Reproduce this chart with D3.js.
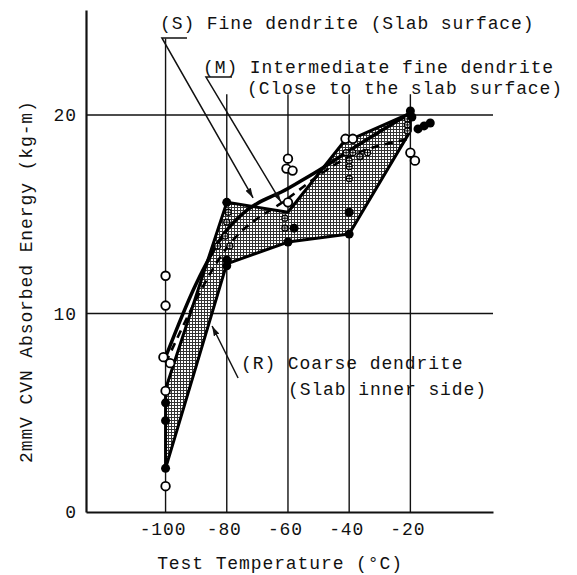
<!DOCTYPE html>
<html>
<head>
<meta charset="utf-8">
<script src="https://cdn.jsdelivr.net/npm/d3@7"></script>
<style>
  body { margin: 0; background: #fff; }
  svg text { font-family: "Liberation Mono", "Courier New", monospace; font-size: 18px; fill: #111; letter-spacing: 0.9px; }
</style>
</head>
<body>
<svg id="chart"></svg>
<script>
// Chart size
const width = 577;
const height = 575;

// Test temperatures (deg C) and energy ticks (kg-m)
const temps = [-100, -80, -60, -40, -20];
const energyTicks = [0, 10, 20];
const gridEnergies = [10, 20];

// Shaded scatter band: upper and lower bounds
const bandUpper = [[-100, 6.2], [-80, 15.6], [-60, 15.1], [-42, 18.6], [-20, 20.1]];
const bandLower = [[-100, 2.2], [-80, 12.5], [-60, 13.6], [-40, 14.0], [-20, 19.2]];

// (S) fine dendrite curve, solid
const curveS = [[-100, 7.8], [-90, 11.5], [-80, 14.2], [-75, 15.0], [-60, 16.3], [-50, 17.2], [-40, 18.2], [-20, 20.1]];
// (M) intermediate fine dendrite curve, dashed
const curveM = [[-100, 7.5], [-80, 13.3], [-60, 15.8], [-40, 17.9], [-20, 18.8]];

// Measured points: S = open circles, M = crossed circles, R = filled dots
const pointsS = [[-100, 11.9], [-100, 10.4], [-100.7, 7.8], [-98.5, 7.5], [-100, 6.1], [-100, 1.3],
  [-60, 17.8], [-60.5, 17.3], [-58.5, 17.2], [-60, 15.6],
  [-41.2, 18.8], [-38.8, 18.8], [-20, 18.1], [-18.5, 17.7]];
const pointsM = [[-79.5, 15.1], [-80, 14.6], [-80.5, 13.9], [-83, 13.4], [-79, 13.4],
  [-61, 14.8], [-61, 14.3], [-41, 18.1], [-38.8, 18.1], [-40, 17.7], [-40, 17.4], [-40, 16.8],
  [-36.5, 17.9], [-34, 18.1], [-21, 19.8], [-21, 19.5], [-21, 19.2]];
const pointsR = [[-100, 5.5], [-100, 4.6], [-100, 2.2], [-80, 15.6], [-80, 12.7], [-80, 12.4],
  [-58, 14.3], [-60, 13.6], [-40, 15.1], [-40, 14.0],
  [-20, 20.2], [-19.5, 19.9], [-17.5, 19.3], [-15.5, 19.45], [-13.5, 19.6]];

const svg = d3.select("#chart")
  .attr("width", width)
  .attr("height", height);

// Scales
const x = d3.scaleLinear().domain([-126, 7]).range([86, 493]);
const y = d3.scaleLinear().domain([0, 25.29]).range([512, 10]);

// Hatch pattern and arrow head
const defs = svg.append("defs");
const pat = defs.append("pattern")
  .attr("id", "hatch")
  .attr("patternUnits", "userSpaceOnUse")
  .attr("width", 3)
  .attr("height", 3);
pat.append("rect").attr("width", 3).attr("height", 3).attr("fill", "#fff");
pat.append("path").attr("d", "M0,0.5H3M0.5,0V3").attr("stroke", "#333").attr("stroke-width", 1);

defs.append("marker")
  .attr("id", "arrow")
  .attr("viewBox", "0 0 10 6")
  .attr("refX", 10)
  .attr("refY", 3)
  .attr("markerWidth", 10)
  .attr("markerHeight", 6)
  .attr("markerUnits", "userSpaceOnUse")
  .attr("orient", "auto")
  .append("path")
  .attr("d", "M0,0L10,3L0,6Z")
  .attr("fill", "#111");

// Horizontal grid lines
svg.selectAll(".hgrid")
  .data(gridEnergies)
  .enter()
  .append("line")
  .attr("x1", x(-126)).attr("x2", x(7))
  .attr("y1", d => y(d)).attr("y2", d => y(d))
  .attr("stroke", "#111")
  .attr("stroke-width", 1.5);

// Vertical lines at the test temperatures (the -100 one runs up to the (S) leader)
svg.selectAll(".vgrid")
  .data(temps)
  .enter()
  .append("line")
  .attr("x1", d => x(d)).attr("x2", d => x(d))
  .attr("y1", y(0))
  .attr("y2", d => d === -100 ? y(23.85) : y(21.05))
  .attr("stroke", "#111")
  .attr("stroke-width", 1.4);

// Axes
const yAxis = d3.axisLeft(y).tickValues(energyTicks).tickSize(0).tickSizeOuter(0).tickPadding(9);
const xAxis = d3.axisBottom(x).tickValues(temps).tickSize(0).tickSizeOuter(0).tickFormat(d => String(d));

const gy = svg.append("g")
  .attr("transform", `translate(${x(-126)},0)`)
  .call(yAxis);
const gx = svg.append("g")
  .attr("transform", `translate(0,${y(0)})`)
  .call(xAxis);

[gx, gy].forEach(g => {
  g.select(".domain").attr("stroke", "#111").attr("stroke-width", 2.2);
  g.selectAll("text").attr("font-family", null).attr("font-size", null);
});
gx.selectAll("text").attr("dy", null).attr("y", 23).attr("dx", -3);

// Shaded band
const band = bandUpper.concat(bandLower.slice().reverse());
svg.append("path")
  .attr("d", "M" + band.map(d => [x(d[0]), y(d[1])].join(",")).join("L") + "Z")
  .attr("fill", "url(#hatch)")
  .attr("stroke", "#000")
  .attr("stroke-width", 3)
  .attr("stroke-linejoin", "round");

const line = d3.line()
  .x(d => x(d[0]))
  .y(d => y(d[1]))
  .curve(d3.curveMonotoneX);

// S curve
svg.append("path")
  .attr("d", line(curveS))
  .attr("fill", "none")
  .attr("stroke", "#000")
  .attr("stroke-width", 3.5);

// M curve
svg.append("path")
  .attr("d", line(curveM))
  .attr("fill", "none")
  .attr("stroke", "#000")
  .attr("stroke-width", 2.6)
  .attr("stroke-dasharray", "8,6");

// Points
svg.selectAll(".ptS")
  .data(pointsS)
  .enter()
  .append("circle")
  .attr("cx", d => x(d[0]))
  .attr("cy", d => y(d[1]))
  .attr("r", 4.3)
  .attr("fill", "#fff")
  .attr("stroke", "#000")
  .attr("stroke-width", 1.8);

const gm = svg.selectAll(".ptM")
  .data(pointsM)
  .enter()
  .append("g")
  .attr("transform", d => `translate(${x(d[0])},${y(d[1])})`);
gm.append("circle")
  .attr("r", 3)
  .attr("fill", "#fff")
  .attr("stroke", "#000")
  .attr("stroke-width", 1.3);
gm.append("path")
  .attr("d", "M-3,0H3M0,-3V3")
  .attr("stroke", "#000")
  .attr("stroke-width", 1);

svg.selectAll(".ptR")
  .data(pointsR)
  .enter()
  .append("circle")
  .attr("cx", d => x(d[0]))
  .attr("cy", d => y(d[1]))
  .attr("r", 4.5)
  .attr("fill", "#000");

// Leader lines (in data units)
const leaders = [
  [[-93.0, 23.88], [-101.2, 23.88], [-71.4, 15.82]],
  [[-78.3, 21.91], [-86.8, 21.91], [-62.3, 15.62]],
  [[-76.3, 6.75], [-84.8, 9.37]]
];
svg.selectAll(".leader")
  .data(leaders)
  .enter()
  .append("path")
  .attr("d", d => d3.line().x(p => x(p[0])).y(p => y(p[1]))(d))
  .attr("fill", "none")
  .attr("stroke", "#111")
  .attr("stroke-width", 1.5)
  .attr("marker-end", "url(#arrow)");

// Labels
const labels = [
  { t: "(S) Fine dendrite (Slab surface)", x: 160, y: 29 },
  { t: "(M) Intermediate fine dendrite", x: 203, y: 73 },
  { t: "(Close to the slab surface)", x: 247, y: 94 },
  { t: "(R) Coarse dendrite", x: 241, y: 369 },
  { t: "(Slab inner side)", x: 288, y: 395 }
];
svg.selectAll(".lbl")
  .data(labels)
  .enter()
  .append("text")
  .attr("x", d => d.x)
  .attr("y", d => d.y)
  .text(d => d.t);

// Axis titles
svg.append("text")
  .attr("x", 280)
  .attr("y", 569)
  .attr("text-anchor", "middle")
  .text("Test Temperature (°C)");

svg.append("text")
  .attr("transform", "translate(32,463) rotate(-90)")
  .text("2mmV CVN Absorbed Energy (kg-m)");
</script>
</body>
</html>
